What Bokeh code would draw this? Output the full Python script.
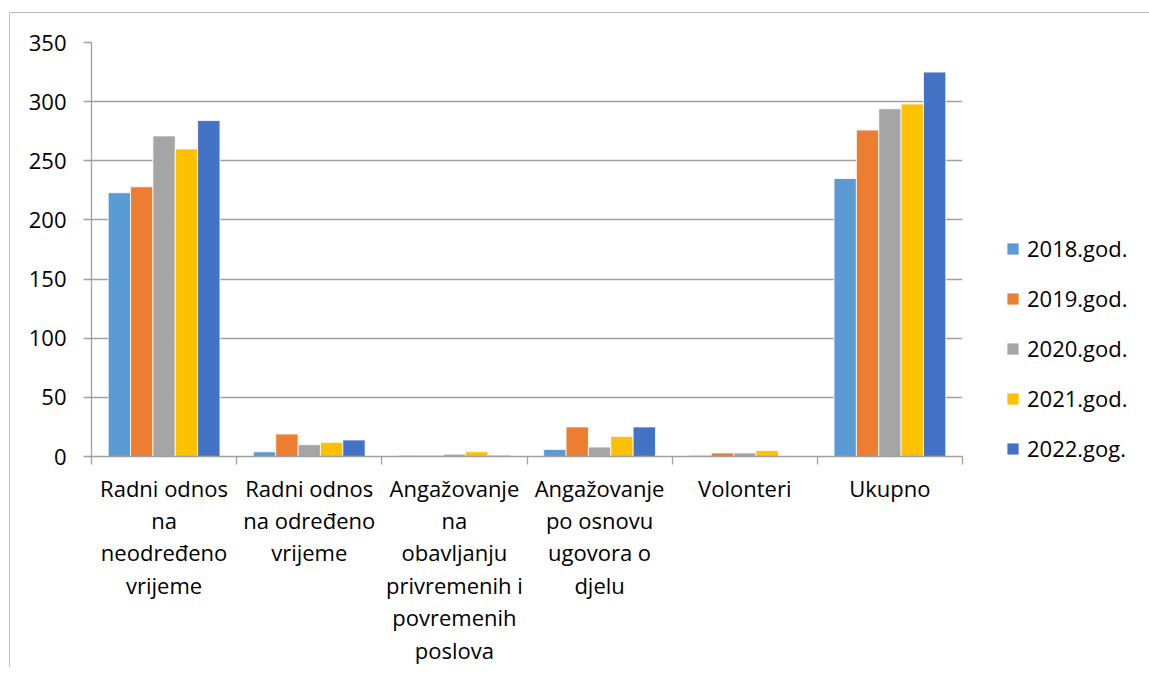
from bokeh.plotting import figure
from bokeh.models import Range1d, FixedTicker, ColumnDataSource, Legend, LegendItem
from bokeh.transform import dodge
from bokeh.embed import file_html
from bokeh.resources import INLINE
import numpy as np

categories = [
    "Radni odnos\nna\nneodređeno\nvrijeme",
    "Radni odnos\nna određeno\nvrijeme",
    "Angažovanje\nna\nobavljanju\nprivremenih i\npovremenih\nposlova",
    "Angažovanje\npo osnovu\nugovora o\ndjelu",
    "Volonteri",
    "Ukupno",
]
series_names = ["2018.god.", "2019.god.", "2020.god.", "2021.god.", "2022.gog."]
v2018 = [223, 4, 1, 6, 1, 235]
v2019 = [228, 19, 1, 25, 3, 276]
v2020 = [271, 10, 2, 8, 3, 294]
v2021 = [260, 12, 4, 17, 5, 298]
v2022 = [284, 14, 1, 25, 0, 325]
y_ticks = [0, 50, 100, 150, 200, 250, 300, 350]
colors = ["#5B9BD5", "#ED7D31", "#A5A5A5", "#FFC000", "#4472C4"]

FONT = "Open Sans"
n = len(categories)
centers = np.arange(n) + 0.5
src = ColumnDataSource(dict(x=centers, s0=v2018, s1=v2019, s2=v2020, s3=v2021, s4=v2022))

W, H = 1128, 650
frame_l, frame_t, frame_w, frame_h = 81, 29, 871, 414

p = figure(width=W, height=H, output_backend="svg", toolbar_location=None,
           x_range=Range1d(0, n), y_range=Range1d(0, 350),
           min_border_left=frame_l, min_border_top=frame_t,
           min_border_right=W - frame_l - frame_w,
           min_border_bottom=H - frame_t - frame_h)
p.frame_width = frame_w
p.frame_height = frame_h
p.outline_line_color = None
p.background_fill_color = "white"
p.border_fill_color = "white"
p.styles = {"margin-left": "9px", "margin-top": "12px",
            "border-left": "1.5px solid #BFBFBF", "border-top": "1.5px solid #BFBFBF"}

bw = 0.154
renderers = []
for i, name in enumerate(series_names):
    r = p.vbar(x=dodge("x", (i - 2) * bw), top="s%d" % i, width=bw, source=src,
               fill_color=colors[i], line_color="white", line_width=1, line_alpha=0.8)
    renderers.append((name, r))

p.xgrid.grid_line_color = None
p.ygrid.grid_line_color = "#A0A0A0"
p.ygrid.grid_line_width = 1.3
p.yaxis.ticker = FixedTicker(ticks=y_ticks)
p.yaxis.axis_line_color = "#A0A0A0"
p.yaxis.axis_line_width = 1.3
p.yaxis.major_tick_line_color = "#A0A0A0"
p.yaxis.major_tick_line_width = 1.3
p.yaxis.major_tick_out = 8
p.yaxis.major_tick_in = 0
p.yaxis.minor_tick_line_color = None
p.yaxis.major_label_standoff = 17
p.yaxis.major_label_text_font = FONT
p.yaxis.major_label_text_font_size = "22px"
p.yaxis.major_label_text_color = "black"

p.xaxis.ticker = FixedTicker(ticks=list(centers), minor_ticks=list(range(n + 1)))
p.xaxis.major_label_overrides = {float(c): lab for c, lab in zip(centers, categories)}
p.xaxis.axis_line_color = "#A0A0A0"
p.xaxis.axis_line_width = 1.3
p.xaxis.major_tick_line_color = None
p.xaxis.minor_tick_line_color = "#A0A0A0"
p.xaxis.minor_tick_line_width = 1.3
p.xaxis.minor_tick_out = 8
p.xaxis.minor_tick_in = 0
p.xaxis.major_tick_out = 8
p.xaxis.major_label_standoff = 8
p.xaxis.major_label_text_font = FONT
p.xaxis.major_label_text_font_size = "22px"
p.xaxis.major_label_text_color = "black"
p.xaxis.major_label_text_line_height = 1.08
p.xaxis.major_label_orientation = "horizontal"

legend = Legend(items=[LegendItem(label=nm, renderers=[r]) for nm, r in renderers],
                location=(43, -7))
legend.border_line_color = None
legend.background_fill_alpha = 0
legend.padding = 0
legend.margin = 0
legend.glyph_width = 15
legend.glyph_height = 15
legend.label_standoff = 7
legend.spacing = 20
legend.label_text_font = FONT
legend.label_text_font_size = "22px"
legend.label_text_color = "black"
p.add_layout(legend, "right")

open("out.html", "w").write(file_html(p, INLINE))
